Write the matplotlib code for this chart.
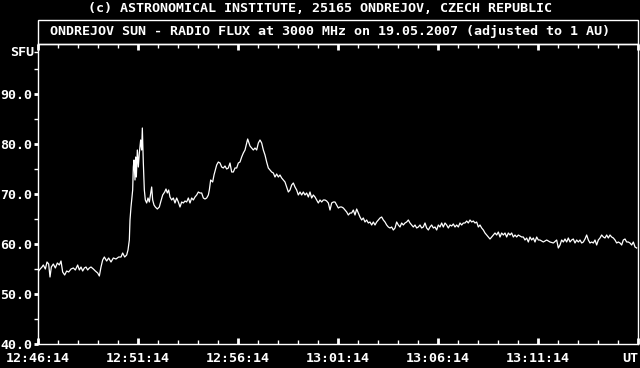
import matplotlib
matplotlib.use("Agg")
import matplotlib.pyplot as plt
from matplotlib.patches import Rectangle

# seconds after 12:46:14 UT
seconds = [0, 4, 12, 16, 22, 27, 32, 36, 40, 46, 52, 58, 64, 69, 74, 80, 86, 92, 99, 106,
           112, 119, 124, 129, 134, 139, 144, 149, 154, 159, 166, 172, 179, 184, 189, 194, 199, 206, 212, 219,
           226, 234, 242, 249, 254, 260, 266, 270, 274, 276, 279, 282, 284, 286, 288, 291, 293, 295, 298, 301,
           304, 308, 311, 313, 316, 319, 322, 326, 330, 334, 338, 341, 344, 348, 352, 358, 364, 368, 374, 380,
           384, 388, 392, 396, 401, 406, 411, 416, 421, 426, 431, 436, 441, 446, 451, 456, 461, 466, 471, 476,
           481, 486, 491, 496, 501, 506, 511, 514, 518, 524, 528, 532, 536, 541, 546, 551, 556, 561, 566, 571,
           576, 581, 586, 591, 596, 601, 606, 611, 616, 621, 626, 629, 632, 636, 641, 646, 651, 656, 661, 666,
           671, 676, 681, 686, 691, 696, 701, 706, 711, 716, 721, 726, 731, 736, 741, 746, 751, 756, 761, 766,
           771, 776, 781, 786, 791, 796, 801, 806, 811, 816, 821, 826, 831, 836, 841, 846, 851, 856, 861, 866,
           871, 876, 881, 886, 891, 896, 901, 906, 911, 916, 921, 926, 931, 936, 941, 946, 951, 956, 961, 966,
           971, 976, 981, 986, 991, 996, 1001, 1006, 1011, 1016, 1021, 1026, 1031, 1036, 1041, 1046, 1051, 1056, 1061, 1066,
           1071, 1076, 1081, 1086, 1091, 1096, 1101, 1106, 1111, 1116, 1121, 1126, 1131, 1136, 1141, 1146, 1151, 1156, 1161, 1166,
           1171, 1176, 1181, 1186, 1191, 1196, 1201, 1206, 1211, 1216, 1221, 1226, 1231, 1236, 1241, 1246, 1251, 1256, 1261, 1266,
           1271, 1276, 1281, 1286, 1291, 1296, 1301, 1306, 1311, 1316, 1321, 1326, 1331, 1336, 1341, 1346, 1351, 1356, 1361, 1366,
           1371, 1376, 1381, 1386, 1391, 1396, 1401, 1406, 1411, 1416, 1421, 1426, 1431, 1436, 1441, 1446, 1451, 1456, 1461, 1466,
           1471, 1476, 1481, 1486, 1491, 1496, 1501, 1506, 1516, 1526, 1536, 1546, 1556, 1561, 1566, 1571, 1576, 1581, 1586, 1591,
           1596, 1601, 1606, 1611, 1616, 1621, 1626, 1631, 1636, 1641, 1646, 1651, 1656, 1661, 1666, 1671, 1676, 1681, 1686, 1691,
           1696, 1701, 1706, 1711, 1716, 1721, 1726, 1731, 1736, 1741, 1746, 1751, 1756, 1761, 1766, 1771, 1776, 1781, 1786, 1791,
           1796]

flux_sfu = [54.4, 54.8, 55.4, 55.8, 55.0, 56.4, 56.0, 53.4, 55.4, 56.0, 55.2, 56.2, 55.8, 56.6, 54.4, 53.8, 54.6, 54.4, 55.0, 55.2,
            54.8, 55.8, 54.8, 55.4, 54.6, 55.2, 55.4, 54.8, 55.2, 55.4, 55.0, 54.6, 54.2, 53.6, 55.4, 56.8, 57.4, 56.6, 57.2, 56.4,
            57.2, 57.0, 57.4, 57.4, 58.2, 57.4, 57.8, 58.8, 60.8, 64.8, 67.4, 69.4, 70.8, 75.4, 76.8, 72.8, 77.4, 73.4, 78.8, 75.4,
            78.2, 80.8, 78.8, 83.2, 76.2, 70.8, 68.8, 68.2, 69.2, 68.4, 70.2, 71.4, 68.8, 67.8, 67.4, 67.0, 67.4, 68.4, 69.8, 70.4,
            71.0, 70.2, 70.8, 69.4, 68.8, 69.2, 68.2, 69.2, 68.4, 67.4, 68.4, 68.2, 68.6, 68.4, 69.2, 68.2, 69.2, 68.8, 69.4, 69.8,
            70.4, 70.2, 70.2, 69.2, 69.0, 69.2, 69.8, 70.8, 72.8, 72.4, 73.8, 74.8, 75.8, 76.4, 76.2, 75.4, 75.2, 75.6, 75.0, 75.2,
            76.2, 74.4, 74.4, 75.2, 75.2, 76.2, 76.4, 77.4, 78.2, 78.8, 80.2, 81.0, 80.4, 79.6, 79.2, 78.8, 79.2, 78.8, 80.2, 80.8,
            80.2, 78.8, 77.8, 76.4, 75.2, 74.8, 74.4, 74.2, 73.4, 74.0, 73.4, 73.8, 73.2, 72.8, 72.4, 71.4, 70.4, 70.8, 71.8, 72.2,
            71.4, 70.8, 69.8, 70.4, 69.8, 70.4, 69.8, 70.2, 69.4, 70.4, 69.2, 69.8, 69.4, 68.8, 68.2, 68.8, 68.4, 68.8, 68.8, 68.6,
            68.2, 66.8, 68.2, 68.4, 68.4, 67.8, 67.2, 67.4, 67.4, 67.2, 66.8, 66.4, 65.8, 66.2, 66.2, 66.8, 65.8, 67.0, 66.2, 65.4,
            64.8, 65.2, 64.4, 64.8, 64.2, 64.4, 63.8, 64.4, 63.8, 64.4, 64.8, 65.2, 65.4, 64.8, 64.4, 63.8, 63.4, 63.2, 63.4, 62.8,
            63.2, 64.4, 63.8, 63.4, 64.2, 63.8, 64.2, 64.4, 64.8, 64.2, 63.8, 63.4, 63.8, 63.2, 63.4, 63.8, 63.2, 63.4, 64.2, 63.2,
            62.8, 63.4, 63.8, 63.2, 63.4, 62.8, 63.8, 63.4, 64.2, 63.4, 64.2, 63.8, 63.2, 63.8, 63.6, 64.0, 63.4, 63.8, 63.4, 64.2,
            63.8, 64.2, 64.2, 64.6, 64.2, 64.8, 64.4, 64.6, 64.2, 64.4, 63.4, 63.8, 63.2, 62.8, 62.2, 61.8, 61.4, 61.0, 61.4, 61.8,
            62.2, 61.8, 62.4, 61.4, 62.2, 61.8, 62.2, 61.4, 62.2, 61.8, 62.2, 61.4, 61.8, 61.4, 61.8, 61.6, 61.4, 61.4, 60.8, 61.2,
            60.4, 61.4, 60.8, 61.2, 60.4, 61.4, 60.8, 60.8, 60.4, 60.8, 60.4, 60.2, 60.8, 59.2, 59.8, 60.8, 60.4, 61.0, 60.4, 61.2,
            60.4, 60.8, 61.0, 60.2, 60.8, 60.4, 60.8, 60.2, 60.4, 61.0, 61.8, 60.8, 60.2, 60.4, 60.2, 60.8, 59.8, 60.8, 61.2, 61.8,
            61.4, 61.2, 61.8, 61.2, 61.8, 61.4, 61.2, 60.8, 60.2, 60.4, 60.2, 59.8, 60.8, 61.0, 60.4, 60.4, 60.2, 59.8, 60.4, 59.4,
            59.2]

x_tick_pos = [0, 300, 600, 900, 1200, 1500, 1800]
x_tick_labels = ["12:46:14", "12:51:14", "12:56:14", "13:01:14", "13:06:14", "13:11:14", "UT"]
y_tick_pos = [40, 50, 60, 70, 80, 90]
y_tick_labels = ["40.0", "50.0", "60.0", "70.0", "80.0", "90.0"]

title_top = "(c) ASTRONOMICAL INSTITUTE, 25165 ONDREJOV, CZECH REPUBLIC"
title_box = "ONDREJOV SUN - RADIO FLUX at 3000 MHz on 19.05.2007 (adjusted to 1 AU)"

W, H = 640, 368
fig = plt.figure(figsize=(W / 100, H / 100), dpi=100, facecolor="black")
FONT = dict(family="DejaVu Sans Mono", weight="bold", size=9.6, color="white")

ax = fig.add_axes([38 / W, 24 / H, 600 / W, 300 / H])
ax.set_facecolor("black")
ax.plot(seconds, flux_sfu, color="white", lw=0.9)
ax.set_xlim(0, 1800)
ax.set_ylim(40, 100)

for s in ax.spines.values():
    s.set_color("white")
    s.set_linewidth(1.0)

ax.set_xticks(x_tick_pos)
ax.set_xticklabels(x_tick_labels, fontdict=FONT)
ax.get_xticklabels()[-1].set_ha("right")
ax.set_xticks(range(0, 1801, 60), minor=True)
ax.tick_params(axis="x", which="major", direction="in", top=True, bottom=True,
               length=4, width=2, color="white", pad=6)
ax.tick_params(axis="x", which="minor", direction="in", top=True, bottom=True,
               length=3, width=1, color="white")

ax.set_yticks(y_tick_pos)
ax.set_yticklabels(y_tick_labels, fontdict=FONT)
ax.set_yticks([45, 55, 65, 75, 85, 95, 98.4], minor=True)
ax.tick_params(axis="y", which="major", direction="out", length=3, width=2,
               color="white", pad=1)
ax.tick_params(axis="y", which="minor", direction="out", length=3, width=1,
               color="white")

# title box
fig.patches.append(Rectangle((38 / W, (H - 44) / H), 600 / W, 24 / H,
                             transform=fig.transFigure, fill=False,
                             edgecolor="white", lw=1.0))
fig.text(320 / W, 1 - 8 / H, title_top, ha="center", va="center", **FONT)
fig.text(330 / W, 1 - 31 / H, title_box, ha="center", va="center", **FONT)
fig.text(34 / W, 1 - 52 / H, "SFU", ha="right", va="center", **FONT)

fig.savefig("out.png", dpi=100, facecolor="black")
